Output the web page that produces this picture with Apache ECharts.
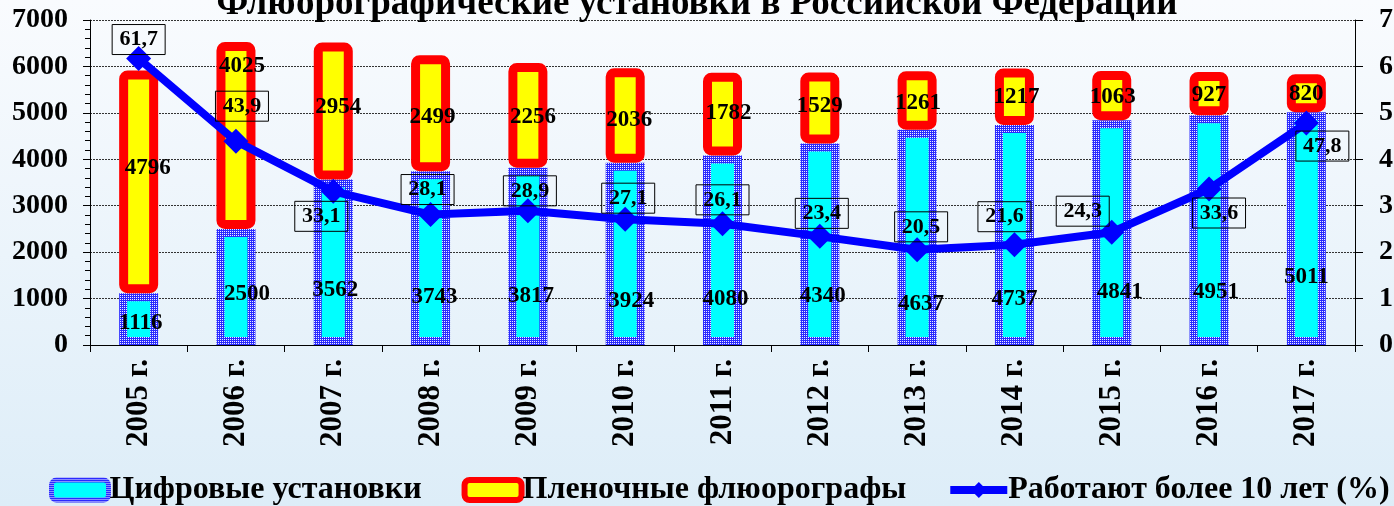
<!DOCTYPE html>
<html>
<head>
<meta charset="utf-8">
<script src="https://cdn.jsdelivr.net/npm/echarts@6/dist/echarts.min.js"></script>
<style>
  html, body { margin: 0; padding: 0; }
  #chart { width: 1394px; height: 506px; }
</style>
</head>
<body>
<div id="chart"></div>
<script>
// data
let years = ["2005 г.", "2006 г.", "2007 г.", "2008 г.", "2009 г.", "2010 г.", "2011 г.",
  "2012 г.", "2013 г.", "2014 г.", "2015 г.", "2016 г.", "2017 г."];
let digital = [1116, 2500, 3562, 3743, 3817, 3924, 4080, 4340, 4637, 4737, 4841, 4951, 5011];
let film = [4796, 4025, 2954, 2499, 2256, 2036, 1782, 1529, 1261, 1217, 1063, 927, 820];
let older10 = [61.7, 43.9, 33.1, 28.1, 28.9, 27.1, 26.1, 23.4, 20.5, 21.6, 24.3, 33.6, 47.8];
let leftTicks = [0, 1000, 2000, 3000, 4000, 5000, 6000, 7000];

// label nudges (px), like the hand-dragged labels of the original
let digitalLabelShift = [[2, 4], [11, 7], [2, 28], [4, 39], [3, 40], [6, 47], [3, 49],
  [3, 52], [4, 67], [0, 64], [8, 59], [7, 62], [0, 48]];
let filmLabelShift = [[9, -14], [6, -69], [5, -4], [2, 4], [5, 2], [4, 5], [6, -1],
  [0, -2], [1, 3], [2, 0], [1, 1], [0, 1], [0, 1]];
let lineLabelShift = [[0, -19], [6, -35], [-12, 25], [-3, -25], [2, -20], [3, -21], [0, -24],
  [2, -23], [4, -23], [-10, -28], [-29, -21], [10, 24], [16, 23]];

const FONT = "Liberation Serif";

// small blue checker used as the border of the cyan bars
function checker() {
  const c = document.createElement("canvas");
  c.width = 2;
  c.height = 2;
  const g = c.getContext("2d");
  g.fillStyle = "#eeeeff";
  g.fillRect(0, 0, 2, 2);
  g.fillStyle = "#2a2aff";
  g.fillRect(0, 0, 1, 1);
  g.fillRect(1, 1, 1, 1);
  g.fillRect(1, 0, 1, 1);
  return c;
}
const checkerPattern = { image: checker(), repeat: "repeat" };

const myChart = echarts.init(document.getElementById("chart"), null, { renderer: "canvas" });

let digitalData = digital.map((v, i) => ({
  value: v,
  label: { offset: digitalLabelShift[i] },
}));
let filmData = film.map((v, i) => ({
  value: v,
  label: { offset: filmLabelShift[i] },
}));
let lineData = older10.map((v, i) => ({
  value: v,
  label: { offset: lineLabelShift[i] },
}));

let valueLabel = {
  show: true,
  position: "inside",
  color: "#000",
  fontFamily: FONT,
  fontWeight: "bold",
  fontSize: 23,
};

let option = {
  backgroundColor: {
    type: "linear", x: 0, y: 0, x2: 0, y2: 1,
    colorStops: [
      { offset: 0, color: "#f9fbfe" },
      { offset: 1, color: "#ddedf8" },
    ],
  },
  animation: false,
  title: {
    text: "Флюорографические установки в Российской Федерации",
    left: "center",
    top: -19,
    textStyle: { fontFamily: FONT, fontWeight: "bold", fontSize: 37, color: "#000" },
  },
  legend: {
    left: 44,
    bottom: -5,
    width: 1400,
    itemWidth: 57,
    itemHeight: 20,
    itemGap: 40,
    textStyle: { fontFamily: FONT, fontWeight: "bold", fontSize: 32, color: "#000", padding: [0, 0, 0, -4] },
    data: [
      { name: "Цифровые установки", itemStyle: { borderWidth: 5 } },
      { name: "Пленочные флюорографы", itemStyle: { borderWidth: 6 } },
      { name: "Работают более 10 лет (%)", lineStyle: { width: 8 } },
    ],
  },
  grid: { left: 90, right: 39, top: 20, bottom: 161, containLabel: false, outerBoundsMode: "none" },
  xAxis: {
    type: "category",
    data: years,
    axisLine: { lineStyle: { color: "#000", width: 1 } },
    axisTick: { show: true, length: 7, lineStyle: { color: "#000" } },
    axisLabel: {
      rotate: 90,
      margin: 14,
      interval: 0,
      fontFamily: FONT,
      fontWeight: "bold",
      fontSize: 31,
      color: "#000",
    },
  },
  yAxis: [
    {
      type: "value",
      min: 0,
      max: 7000,
      interval: 1000,
      axisLine: { show: true, lineStyle: { color: "#000" } },
      axisTick: { show: true, length: 7, lineStyle: { color: "#000" } },
      minorTick: { show: true, splitNumber: 5, length: 5, lineStyle: { color: "#000" } },
      splitLine: { show: true, lineStyle: { color: "#333", type: [2, 1], width: 1 } },
      axisLabel: {
        margin: 22,
        fontFamily: FONT,
        fontWeight: "bold",
        fontSize: 28,
        color: "#000",
        formatter: (v) => (leftTicks.includes(v) ? String(v) : ""),
      },
    },
    {
      type: "value",
      min: 0,
      max: 70,
      interval: 10,
      position: "right",
      axisLine: { show: true, lineStyle: { color: "#000" } },
      axisTick: { show: true, length: 8, lineStyle: { color: "#000" } },
      splitLine: { show: false },
      axisLabel: {
        margin: 24,
        align: "left",
        fontFamily: FONT,
        fontWeight: "bold",
        fontSize: 28,
        color: "#000",
      },
    },
  ],
  series: [
    {
      name: "Цифровые установки",
      type: "bar",
      stack: "all",
      barWidth: 39,
      data: digitalData,
      itemStyle: { color: "#00ffff", borderColor: checkerPattern, borderWidth: 8 },
      label: valueLabel,
      z: 2,
    },
    {
      name: "Пленочные флюорографы",
      type: "bar",
      stack: "all",
      barWidth: 39,
      data: filmData,
      itemStyle: { color: "#ffff00", borderColor: "#ff0000", borderWidth: 9, borderRadius: 4 },
      label: valueLabel,
      z: 3,
    },
    {
      name: "Работают более 10 лет (%)",
      type: "line",
      yAxisIndex: 1,
      data: lineData,
      symbol: "diamond",
      symbolSize: 25,
      lineStyle: { color: "#0000ff", width: 8 },
      itemStyle: { color: "#0000ff" },
      label: {
        show: true,
        position: "inside",
        formatter: (p) => String(p.value).replace(".", ","),
        color: "#000",
        fontFamily: FONT,
        fontWeight: "bold",
        fontSize: 22,
        borderColor: "#000",
        borderWidth: 1,
        padding: [5, 7, 3, 7],
        width: 39,
        align: "center",
      },
      z: 5,
    },
  ],
};

option && myChart.setOption(option);
</script>
</body>
</html>
